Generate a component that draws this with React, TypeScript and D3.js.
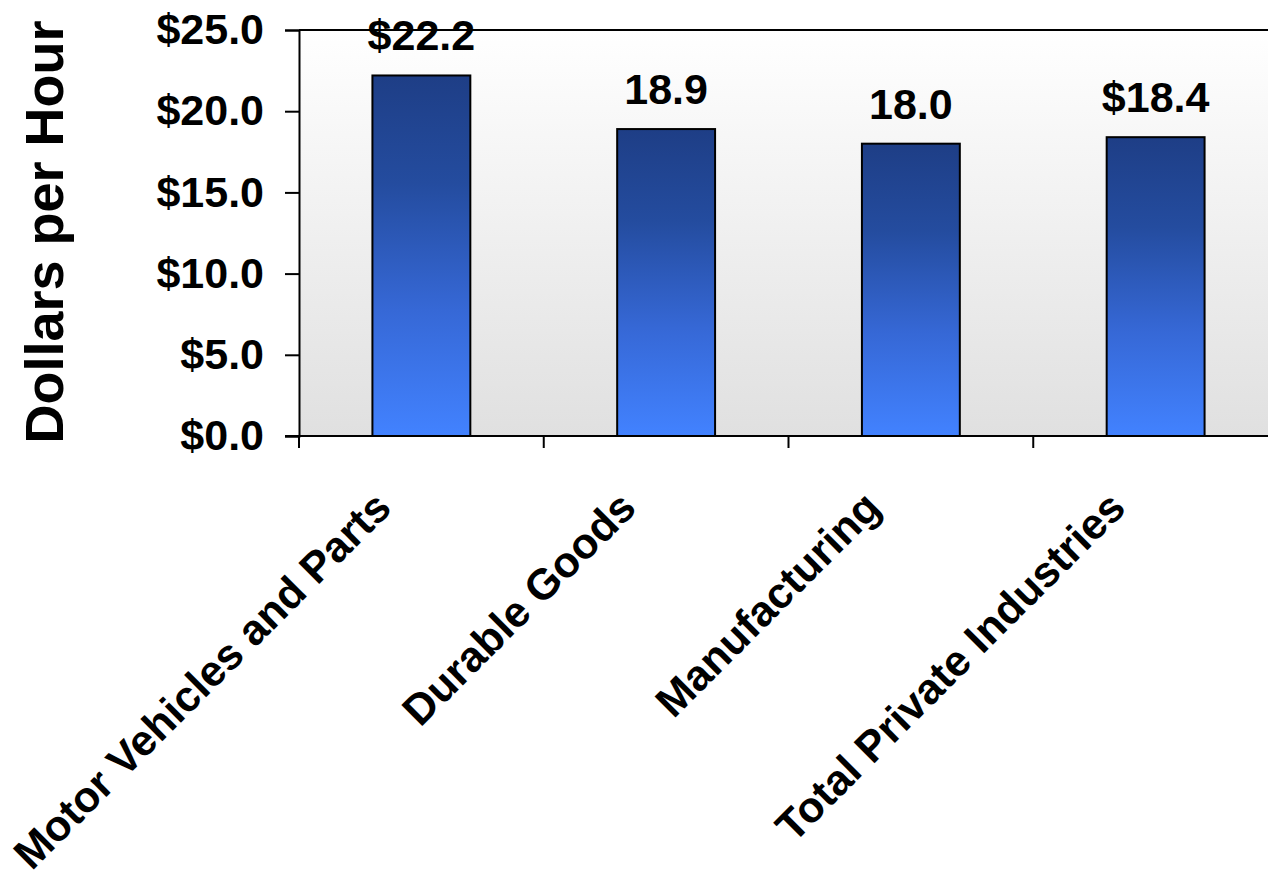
import React, { useEffect, useRef } from 'react';
import * as d3 from 'd3';

// hourly earnings by industry
const categories = ['Motor Vehicles and Parts', 'Durable Goods', 'Manufacturing', 'Total Private Industries'];
const values = [22.2, 18.9, 18.0, 18.4];
const valueLabels = ['$22.2', '18.9', '18.0', '$18.4'];
const yTicks = [0, 5, 10, 15, 20, 25];

const width = 1268,
  height = 874;
const left = 299,
  right = 1278,
  top = 30,
  bottom = 436;

const font = 'Liberation Sans, Arial, Helvetica, sans-serif';

export default function App() {
  const ref = useRef<SVGSVGElement>(null);

  useEffect(() => {
    const svg = d3.select(ref.current);
    svg.selectAll('*').remove();

    const x = d3.scaleBand<string>()
      .domain(categories)
      .range([left, right])
      .paddingInner(0.6)
      .paddingOuter(0.3);

    const y = d3.scaleLinear()
      .domain([0, 25])
      .range([bottom, top]);

    const defs = svg.append('defs');
    const bg = defs.append('linearGradient')
      .attr('id', 'bg').attr('x1', 0).attr('y1', 0).attr('x2', 0).attr('y2', 1);
    bg.append('stop').attr('offset', '0%').attr('stop-color', '#ffffff');
    bg.append('stop').attr('offset', '100%').attr('stop-color', '#e0e0e0');

    const bar = defs.append('linearGradient')
      .attr('id', 'bar').attr('x1', 0).attr('y1', 0).attr('x2', 0).attr('y2', 1);
    bar.append('stop').attr('offset', '0%').attr('stop-color', '#1e3e86');
    bar.append('stop').attr('offset', '30%').attr('stop-color', '#244c9f');
    bar.append('stop').attr('offset', '65%').attr('stop-color', '#3668d6');
    bar.append('stop').attr('offset', '100%').attr('stop-color', '#4282ff');

    // plot area
    svg.append('rect')
      .attr('x', left).attr('y', top)
      .attr('width', right - left).attr('height', bottom - top)
      .attr('fill', 'url(#bg)');

    svg.append('line')
      .attr('x1', left).attr('x2', right)
      .attr('y1', top).attr('y2', top)
      .attr('stroke', '#000').attr('stroke-width', 2);

    // bars
    svg.selectAll('rect.bar')
      .data(values)
      .enter().append('rect')
      .attr('class', 'bar')
      .attr('x', (d, i) => x(categories[i]) as number)
      .attr('y', d => y(d))
      .attr('width', x.bandwidth())
      .attr('height', d => y(0) - y(d))
      .attr('fill', 'url(#bar)')
      .attr('stroke', '#000')
      .attr('stroke-width', 2);

    // value labels
    svg.selectAll('text.val')
      .data(values)
      .enter().append('text')
      .attr('class', 'val')
      .attr('x', (d, i) => (x(categories[i]) as number) + x.bandwidth() / 2)
      .attr('y', d => y(d) - 25)
      .attr('text-anchor', 'middle')
      .style('font', `bold 43px ${font}`)
      .text((d, i) => valueLabels[i]);

    // y axis
    const yAxis = svg.append('g')
      .attr('transform', `translate(${left},0)`)
      .call(d3.axisLeft(y).tickValues(yTicks).tickSize(14).tickPadding(21).tickFormat(d => '$' + d3.format('.1f')(d as number)));
    yAxis.select('.domain').attr('stroke', '#000').attr('stroke-width', 2);
    yAxis.selectAll('.tick line').attr('stroke', '#000').attr('stroke-width', 2);
    yAxis.selectAll('.tick text')
      .attr('fill', '#000')
      .style('font', `bold 43px ${font}`);

    // x axis: ticks at category boundaries
    const step = x.step();
    const off = (step - x.bandwidth()) / 2;
    const bounds = categories.map(c => (x(c) as number) - off).concat([right]);
    svg.append('line')
      .attr('x1', left - 14).attr('x2', right)
      .attr('y1', bottom).attr('y2', bottom)
      .attr('stroke', '#000').attr('stroke-width', 2);
    svg.selectAll('line.xtick')
      .data(bounds)
      .enter().append('line')
      .attr('class', 'xtick')
      .attr('x1', d => d).attr('x2', d => d)
      .attr('y1', bottom).attr('y2', bottom + 12)
      .attr('stroke', '#000').attr('stroke-width', 2);

    svg.selectAll('text.cat')
      .data(categories)
      .enter().append('text')
      .attr('class', 'cat')
      .attr('transform', d => `translate(${(x(d) as number) + x.bandwidth() / 2 - 28},${bottom + 74}) rotate(-45)`)
      .attr('text-anchor', 'end')
      .style('font', `bold 43px ${font}`)
      .text(d => d);

    // y title
    svg.append('text')
      .attr('transform', `translate(63,232) rotate(-90)`)
      .attr('text-anchor', 'middle')
      .style('font', `bold 54px ${font}`)
      .text('Dollars per Hour');
  }, []);

  return (
    <div style={{ position: 'absolute', left: 0, top: 0 }}>
      <svg ref={ref} width={width} height={height} style={{ display: 'block', background: '#fff' }}></svg>
    </div>
  );
}
